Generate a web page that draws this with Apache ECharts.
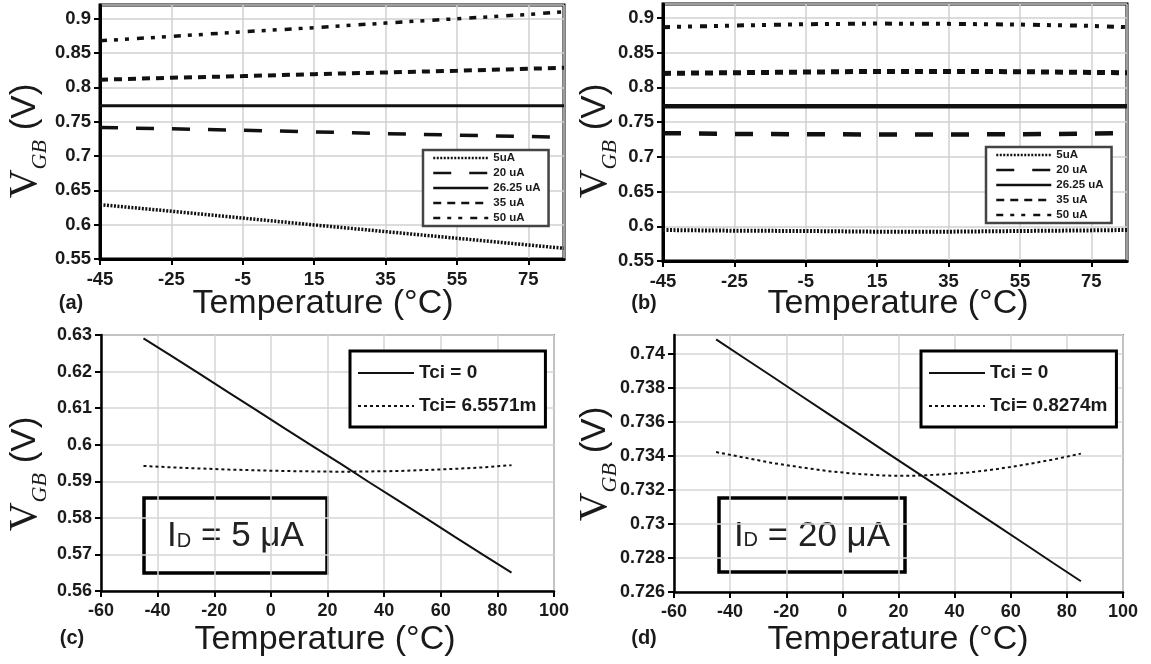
<!DOCTYPE html>
<html><head><meta charset="utf-8">
<script src="https://cdn.jsdelivr.net/npm/echarts@6/dist/echarts.min.js"></script>
<style>html,body{margin:0;padding:0;background:#fff}#c{width:1151px;height:664px}</style>
</head><body><div id="c"></div><script>
// ---------- data ----------
const tempTop = [-45, -25, -5, 15, 35, 55, 75, 85];
// panel (a)
const a5   = [0.6292, 0.6196, 0.6096, 0.5996, 0.5899, 0.5802, 0.5704, 0.5656];
const a20  = [0.7415, 0.7396, 0.7376, 0.7352, 0.7326, 0.7304, 0.7284, 0.7274];
const a26  = [0.7731, 0.7731, 0.7731, 0.7731, 0.7731, 0.7731, 0.7731, 0.7731];
const a35  = [0.8111, 0.8140, 0.8164, 0.8193, 0.8217, 0.8242, 0.8271, 0.8286];
const a50  = [0.8679, 0.8742, 0.8810, 0.8869, 0.8937, 0.9000, 0.9063, 0.9102];
// panel (b)
const b5   = [0.5946, 0.5936, 0.5932, 0.5922, 0.5922, 0.5932, 0.5941, 0.5946];
const b20  = [0.7341, 0.7330, 0.7325, 0.7322, 0.7322, 0.7325, 0.7333, 0.7341];
const b26  = [0.7729, 0.7729, 0.7729, 0.7729, 0.7729, 0.7729, 0.7729, 0.7729];
const b35  = [0.8201, 0.8211, 0.8220, 0.8230, 0.8230, 0.8225, 0.8215, 0.8211];
const b50  = [0.8866, 0.8890, 0.8909, 0.8918, 0.8914, 0.8904, 0.8885, 0.8866];
// panels (c), (d)
const tempBot = [-45, -35, -25, -15, -5, 5, 15, 25, 35, 45, 55, 65, 75, 85];
const c0   = [0.6291, 0.6242, 0.6193, 0.6143, 0.6094, 0.6044, 0.5995, 0.5946, 0.5896, 0.5847, 0.5798, 0.5748, 0.5699, 0.5650];
const cT   = [0.5942, 0.5938, 0.5935, 0.5932, 0.5930, 0.5928, 0.5927, 0.5926, 0.5927, 0.5928, 0.5931, 0.5934, 0.5938, 0.5944];
const d0   = [0.74084, 0.73975, 0.73866, 0.73756, 0.73647, 0.73538, 0.73428, 0.73319, 0.73210, 0.73100, 0.72991, 0.72882, 0.72772, 0.72663];
const dT   = [0.73422, 0.73390, 0.73358, 0.73333, 0.73310, 0.73294, 0.73284, 0.73283, 0.73290, 0.73302, 0.73322, 0.73348, 0.73378, 0.73413];
const namesTop = ['5uA', '20 uA', '26.25 uA', '35 uA', '50 uA'];
const namesC = ['Tci = 0', 'Tci= 6.5571m'];
const namesD = ['Tci = 0', 'Tci= 0.8274m'];
const idLabels = ['5 μA', '20 μA'];
const panelTags = ['(a)', '(b)', '(c)', '(d)'];

// ---------- helpers ----------
const zip = (xs, ys) => xs.map((x, i) => [x, ys[i]]);
const INK = '#1a1a1a';
const NOFILL = 'rgba(0,0,0,0)';
function line(name, gi, xs, ys, width, type) {
  return { name, type: 'line', xAxisIndex: gi, yAxisIndex: gi, data: zip(xs, ys),
    symbol: 'none', showSymbol: false, silent: true, animation: false,
    itemStyle: { color: NOFILL, borderWidth: 0 },
    lineStyle: { color: '#111', width, type } };
}
const dashes = { d5: [2, 1.5], d20: [18, 18], d35: [8, 6], d50: [7, 7, 4, 7, 4, 8] };

function xAxisTop(gi) {
  return { gridIndex: gi, type: 'value', min: -45, max: 85, interval: 20,
    axisLine: { show: true, onZero: false, lineStyle: { color: '#000', width: 3 } },
    axisTick: { show: true, length: 6, lineStyle: { color: '#000', width: 2 } },
    axisLabel: { color: INK, fontWeight: 'bold', fontSize: 18.5, fontFamily: 'Liberation Sans', margin: 11, showMaxLabel: false },
    splitLine: { show: true, lineStyle: { color: '#d0d0d0', width: 1.5 } } };
}
function yAxisTop(gi) {
  return { gridIndex: gi, type: 'value', min: 0.55, max: 0.92, interval: 0.05,
    axisLine: { show: true, onZero: false, lineStyle: { color: '#000', width: 3 } },
    axisTick: { show: true, length: 6, lineStyle: { color: '#000', width: 2 } },
    axisLabel: { color: INK, fontWeight: 'bold', fontSize: 18.5, fontFamily: 'Liberation Sans', margin: 9, showMaxLabel: false },
    splitLine: { show: true, lineStyle: { color: '#d0d0d0', width: 1.5 } } };
}
function xAxisBot(gi) {
  return { gridIndex: gi, type: 'value', min: -60, max: 100, interval: 20,
    axisLine: { show: true, onZero: false, lineStyle: { color: '#000', width: 2.5 } },
    axisTick: { show: true, length: 6, lineStyle: { color: '#000', width: 2 } },
    axisLabel: { color: INK, fontWeight: 'bold', fontSize: 18, fontFamily: 'Liberation Sans', margin: 11 },
    splitLine: { show: true, lineStyle: { color: '#d6d6d6', width: 1.5 } } };
}
function yAxisBot(gi, min, max, interval, showMax) {
  return { gridIndex: gi, type: 'value', min, max, interval,
    axisLine: { show: true, onZero: false, lineStyle: { color: '#000', width: 2.5 } },
    axisTick: { show: true, length: 6, lineStyle: { color: '#000', width: 2 } },
    axisLabel: { color: INK, fontWeight: 'bold', fontSize: 18, fontFamily: 'Liberation Sans', margin: 9, showMaxLabel: showMax },
    splitLine: { show: true, lineStyle: { color: '#d6d6d6', width: 1.5 } } };
}
function topLegend(left, top) {
  return { orient: 'vertical', left, top, data: namesTop, itemWidth: 55, itemHeight: 12, itemGap: 1,
    padding: [1, 8, 1, 9], backgroundColor: '#fff', borderColor: '#444', borderWidth: 2.5, borderRadius: 0,
    itemStyle: { color: NOFILL, borderWidth: 0, opacity: 0 },
    lineStyle: { width: 2.5 },
    selectedMode: false, textStyle: { color: INK, fontWeight: 'bold', fontSize: 11.5, fontFamily: 'Liberation Sans', lineHeight: 14 } };
}
function botLegend(left, top, data) {
  return { orient: 'vertical', left, top, data, itemWidth: 56, itemHeight: 14, itemGap: 11,
    padding: [11, 9, 10, 7], backgroundColor: '#fff', borderColor: '#000', borderWidth: 3, borderRadius: 0,
    itemStyle: { color: NOFILL, borderWidth: 0, opacity: 0 },
    selectedMode: false, textStyle: { color: INK, fontWeight: 'bold', fontSize: 19, fontFamily: 'Liberation Sans', lineHeight: 22 } };
}
function yName(x, y) {
  return { type: 'text', x, y, rotation: Math.PI / 2, z: 50,
    style: { text: '{v|V}{s|GB}{p| (V)}', align: 'center', verticalAlign: 'middle',
      rich: {
        v: { fontFamily: 'Liberation Serif', fontSize: 40, lineHeight: 52, verticalAlign: 'middle', fill: INK },
        s: { fontFamily: 'Liberation Serif', fontStyle: 'italic', fontSize: 22, lineHeight: 22, verticalAlign: 'bottom', fill: INK },
        p: { fontFamily: 'Liberation Sans', fontSize: 35, lineHeight: 52, verticalAlign: 'middle', fill: INK }
      } } };
}
function xName(x, y) {
  return { type: 'text', x, y, z: 50,
    style: { text: 'Temperature (°C)', align: 'center', verticalAlign: 'middle',
      fontFamily: 'Liberation Sans', fontSize: 34, fill: INK } };
}
function tag(x, y, t) {
  return { type: 'text', x, y, z: 50,
    style: { text: t, align: 'center', verticalAlign: 'middle', fontFamily: 'Liberation Sans', fontWeight: 'bold', fontSize: 20, fill: INK } };
}
function idBox(x, y, w, h, label) {
  return { type: 'group', z: 60, children: [
    { type: 'rect', shape: { x, y, width: w, height: h }, style: { fill: '#fff', stroke: '#000', lineWidth: 3.5 } },
    { type: 'text', x: x + w / 2, y: y + h / 2 + 1,
      style: { text: '{a|I}{b|D}{a| = ' + label + '}', align: 'center', verticalAlign: 'middle',
        rich: {
          a: { fontFamily: 'Liberation Sans', fontSize: 35, lineHeight: 40, verticalAlign: 'middle', fill: '#222' },
          b: { fontFamily: 'Liberation Sans', fontSize: 20, lineHeight: 20, verticalAlign: 'middle', padding: [9, 0, 0, 0], fill: '#222' }
        } } }
  ] };
}

const option = {
  animation: false,
  backgroundColor: '#fff',
  grid: [
    { left: 100, top: 5, width: 464, height: 254, show: true, borderColor: '#000', borderWidth: 3 },
    { left: 663, top: 4, width: 464, height: 257, show: true, borderColor: '#000', borderWidth: 3 },
    { left: 101, top: 335, width: 453, height: 256, show: true, borderColor: '#8c8c8c', borderWidth: 2 },
    { left: 674, top: 335, width: 449, height: 257, show: true, borderColor: '#8c8c8c', borderWidth: 2 }
  ],
  xAxis: [xAxisTop(0), xAxisTop(1), xAxisBot(2), xAxisBot(3)],
  yAxis: [yAxisTop(0), yAxisTop(1), yAxisBot(2, 0.56, 0.63, 0.01, true), yAxisBot(3, 0.726, 0.7411, 0.002, false)],
  legend: [topLegend(423, 150), topLegend(986, 147), botLegend(350, 351, namesC), botLegend(921, 351, namesD)],
  series: [
    line(namesTop[0], 0, tempTop, a5, 3.5, dashes.d5),
    line(namesTop[1], 0, tempTop, a20, 3.5, dashes.d20),
    line(namesTop[2], 0, tempTop, a26, 3, 'solid'),
    line(namesTop[3], 0, tempTop, a35, 4, dashes.d35),
    line(namesTop[4], 0, tempTop, a50, 3.5, dashes.d50),
    line(namesTop[0], 1, tempTop, b5, 4, dashes.d5),
    line(namesTop[1], 1, tempTop, b20, 4.5, dashes.d20),
    line(namesTop[2], 1, tempTop, b26, 4.5, 'solid'),
    line(namesTop[3], 1, tempTop, b35, 5, dashes.d35),
    line(namesTop[4], 1, tempTop, b50, 4, dashes.d50),
    line(namesC[0], 2, tempBot, c0, 2, 'solid'),
    line(namesC[1], 2, tempBot, cT, 2, [3, 3]),
    line(namesD[0], 3, tempBot, d0, 2, 'solid'),
    line(namesD[1], 3, tempBot, dT, 2, [3, 3])
  ],
  graphic: [
    yName(25, 141), yName(595, 141), yName(25, 474), yName(595, 464),
    xName(323, 304), xName(898, 304), xName(325, 640), xName(898, 640),
    tag(71, 303, panelTags[0]), tag(644, 303, panelTags[1]), tag(72, 638, panelTags[2]), tag(644, 638, panelTags[3]),
    idBox(144, 498, 183, 75, idLabels[0]), idBox(719, 498, 186, 74, idLabels[1])
  ]
};
const chart = echarts.init(document.getElementById('c'), null, { renderer: 'canvas' });
chart.setOption(option);
</script></body></html>
